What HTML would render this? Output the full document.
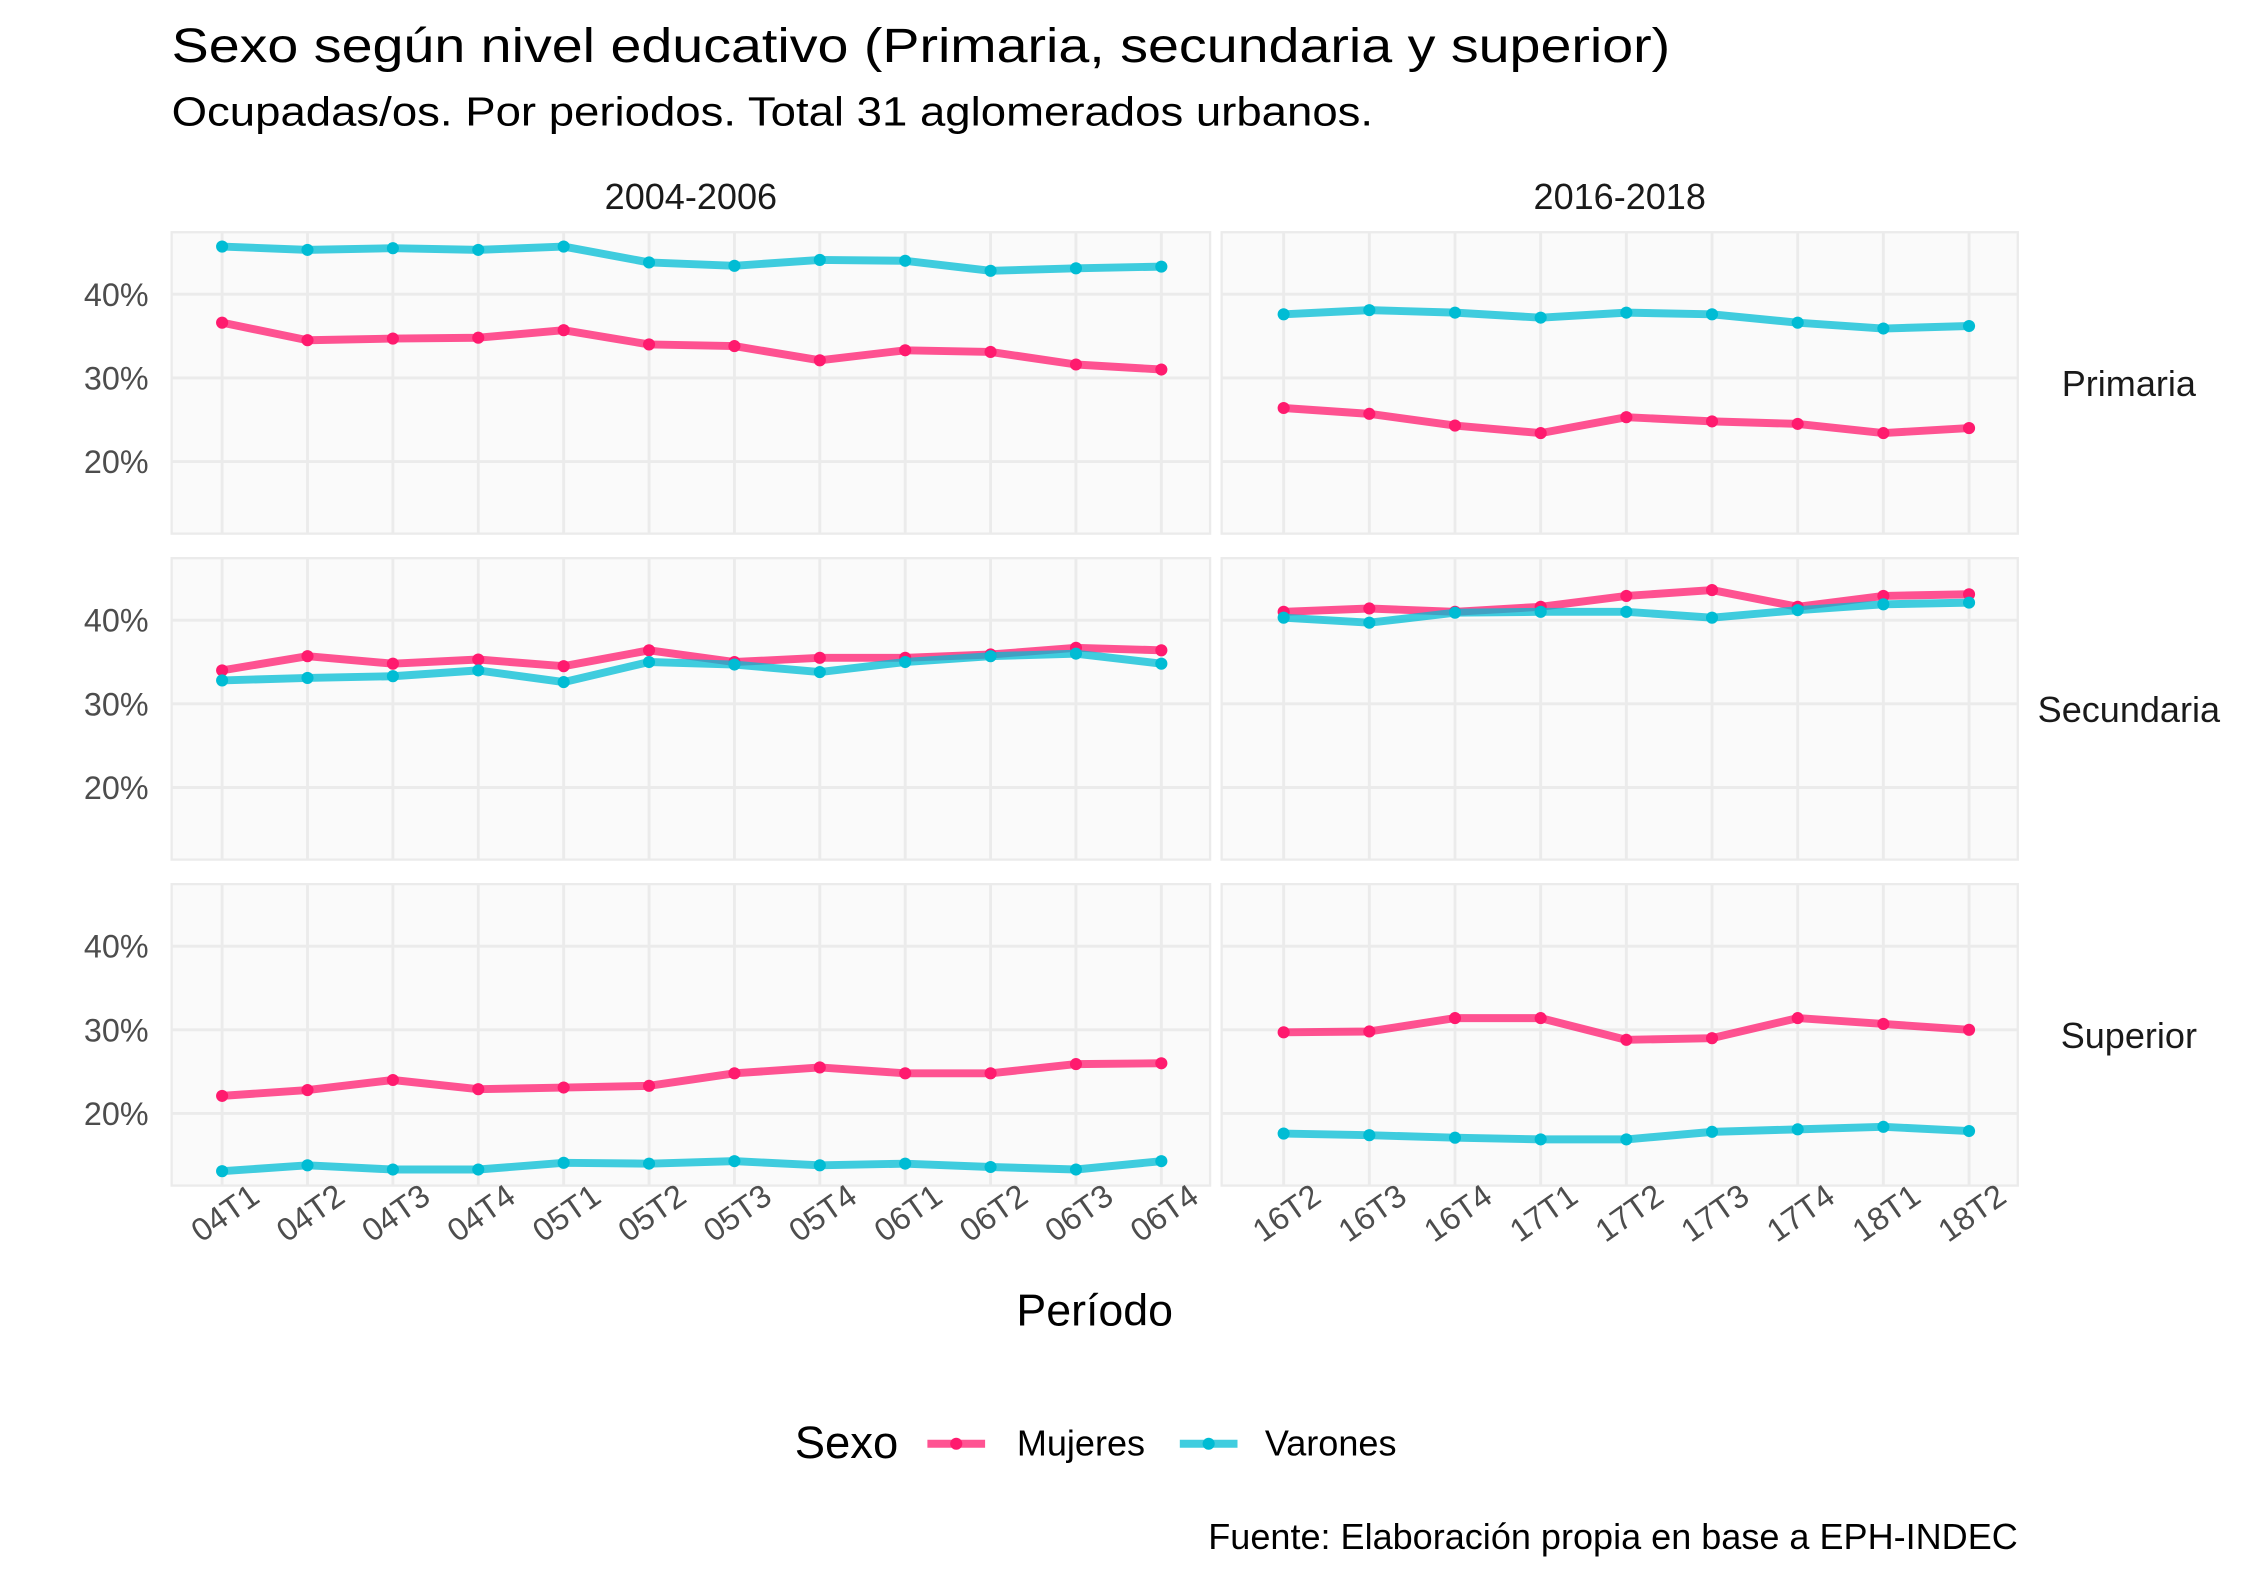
<!DOCTYPE html>
<html><head><meta charset="utf-8"><style>html,body{margin:0;padding:0;background:#fff}svg{display:block}text{font-family:"Liberation Sans",sans-serif}</style></head>
<body>
<svg id="chart" width="2250" height="1575" viewBox="0 0 1560 1092" xmlns="http://www.w3.org/2000/svg">
<rect width="1560" height="1092" fill="#fff"/>
<text x="119" y="43" font-size="33.5" fill="#000" textLength="1039" lengthAdjust="spacingAndGlyphs">Sexo según nivel educativo (Primaria, secundaria y superior)</text>
<text x="119" y="87" font-size="28" fill="#000" textLength="833" lengthAdjust="spacingAndGlyphs">Ocupadas/os. Por periodos. Total 31 aglomerados urbanos.</text>
<g id="plot"></g>
<text x="759" y="919" font-size="31" text-anchor="middle" fill="#000">Período</text>
<g>
<text x="551" y="1011" font-size="31.5" fill="#000">Sexo</text>
<g>
<line x1="643" y1="1001" x2="683" y2="1001" stroke="#ff1a6e" stroke-opacity="0.75" stroke-width="5.5"/>
<circle cx="663" cy="1001" r="4.2" fill="#ff1a6e"/>
<text x="705" y="1009" font-size="25" fill="#000">Mujeres</text></g>
<g>
<line x1="818" y1="1001" x2="858" y2="1001" stroke="#00bcd4" stroke-opacity="0.75" stroke-width="5.5"/>
<circle cx="838" cy="1001" r="4.2" fill="#00bcd4"/>
<text x="877" y="1009" font-size="25" fill="#000">Varones</text></g>
</g>
<text x="1399" y="1074" font-size="25" text-anchor="end" fill="#000">Fuente: Elaboración propia en base a EPH-INDEC</text>
</svg>
<script>
const periods1 = ["04T1","04T2","04T3","04T4","05T1","05T2","05T3","05T4","06T1","06T2","06T3","06T4"];
const periods2 = ["16T2","16T3","16T4","17T1","17T2","17T3","17T4","18T1","18T2"];
const levels = ["Primaria","Secundaria","Superior"];
const yTicks = [20,30,40];
const yTickLabels = ["20%","30%","40%"];
const mujeresPrim1 = [36.6,34.5,34.7,34.8,35.7,34.0,33.8,32.1,33.3,33.1,31.6,31.0];
const varonesPrim1 = [45.7,45.3,45.5,45.3,45.7,43.8,43.4,44.1,44.0,42.8,43.1,43.3];
const mujeresPrim2 = [26.4,25.7,24.3,23.4,25.3,24.8,24.5,23.4,24.0];
const varonesPrim2 = [37.6,38.1,37.8,37.2,37.8,37.6,36.6,35.9,36.2];
const mujeresSec1 = [34.0,35.7,34.8,35.3,34.5,36.4,35.0,35.5,35.5,35.9,36.7,36.4];
const varonesSec1 = [32.8,33.1,33.3,34.0,32.6,35.0,34.7,33.8,35.0,35.7,36.0,34.8];
const mujeresSec2 = [41.0,41.4,41.0,41.6,42.9,43.6,41.6,42.9,43.1];
const varonesSec2 = [40.3,39.7,40.9,41.0,41.0,40.3,41.2,41.9,42.1];
const mujeresSup1 = [22.1,22.8,24.0,22.9,23.1,23.3,24.8,25.5,24.8,24.8,25.9,26.0];
const varonesSup1 = [13.1,13.8,13.3,13.3,14.1,14.0,14.3,13.8,14.0,13.6,13.3,14.3];
const mujeresSup2 = [29.7,29.8,31.4,31.4,28.8,29.0,31.4,30.7,30.0];
const varonesSup2 = [17.6,17.4,17.1,16.9,16.9,17.8,18.1,18.4,17.9];

const NS="http://www.w3.org/2000/svg";
const plot=document.getElementById('plot');
function mk(tag,attrs,parent){const e=document.createElementNS(NS,tag);for(const k in attrs)e.setAttribute(k,attrs[k]);(parent||plot).appendChild(e);return e;}
const panelsX=[{x0:119,x1:839,cats:periods1,first:154,step:59.2,label:"2004-2006"},{x0:847,x1:1399,cats:periods2,first:890,step:59.4,label:"2016-2018"}];
const rowsTop=[161,387,613], rowH=209;
function yScale(row,v){return 204+226*row+(40-v)*5.8;}
function xScale(p,i){return panelsX[p].first+i*panelsX[p].step;}
const data=[[[mujeresPrim1,varonesPrim1],[mujeresPrim2,varonesPrim2]],[[mujeresSec1,varonesSec1],[mujeresSec2,varonesSec2]],[[mujeresSup1,varonesSup1],[mujeresSup2,varonesSup2]]];
const colors=["#ff1a6e","#00bcd4"], names=["mujeres","varones"];

panelsX.forEach((P,p)=>{
  const t=mk('text',{x:(P.x0+P.x1)/2,y:145,'font-size':25,'text-anchor':'middle',fill:'#1a1a1a'});
  t.textContent=P.label;
  
  
});
levels.forEach((lv,r)=>{
  const t=mk('text',{x:1476,y:rowsTop[r]+rowH/2+9,'font-size':25,'text-anchor':'middle',fill:'#1a1a1a'});
  t.textContent=lv;
  
  
  yTicks.forEach((v,i)=>{
    const tt=mk('text',{x:103,y:yScale(r,v)+8,'font-size':22.4,'text-anchor':'end',fill:'#4d4d4d'});
    tt.textContent=yTickLabels[i];
    
    
  });
  panelsX.forEach((P,p)=>{
    const g=mk('g',{});
    
    
    mk('rect',{x:P.x0,y:rowsTop[r],width:P.x1-P.x0,height:rowH,fill:'#fafafa',stroke:'#ebebeb','stroke-width':1.6},g);
    yTicks.forEach(v=>{const y=yScale(r,v);mk('line',{x1:P.x0,x2:P.x1,y1:y,y2:y,stroke:'#ebebeb','stroke-width':2},g);});
    P.cats.forEach((c,i)=>{const x=xScale(p,i);mk('line',{x1:x,x2:x,y1:rowsTop[r],y2:rowsTop[r]+rowH,stroke:'#ebebeb','stroke-width':2},g);});
    data[r][p].forEach((ser,s)=>{
      const pts=ser.map((v,i)=>xScale(p,i)+','+yScale(r,v)).join(' ');
      const pl=mk('polyline',{points:pts,fill:'none',stroke:colors[s],'stroke-opacity':0.75,'stroke-width':5.5,'stroke-linejoin':'round'},g);
      
      
      ser.forEach((v,i)=>{
        const c=mk('circle',{cx:xScale(p,i),cy:yScale(r,v),r:4.2,fill:colors[s]},g);
        
        
      });
    });
  });
});
panelsX.forEach((P,p)=>{
  P.cats.forEach((c,i)=>{
    const x=xScale(p,i)+2;
    const t=mk('text',{x:x,y:841,'font-size':22.4,'text-anchor':'middle','dominant-baseline':'central',fill:'#4d4d4d',transform:'rotate(-35 '+x+' 841)'});
    t.textContent=c;
    
    
  });
});
</script>
</body></html>
